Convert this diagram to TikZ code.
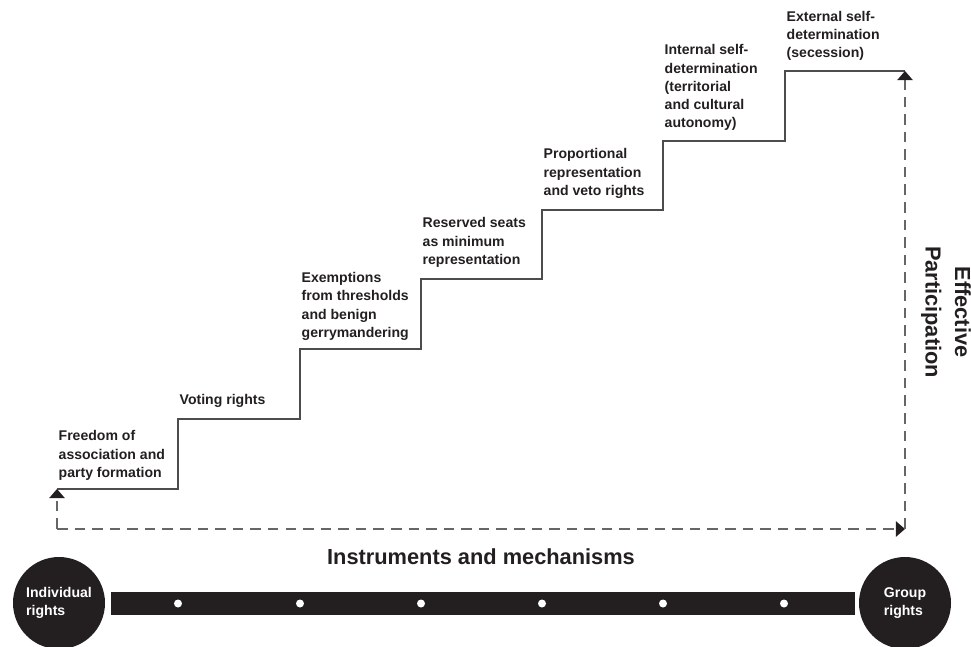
\documentclass[tikz,border=0pt]{standalone}
\usepackage{fontspec}
\setmainfont{Liberation Sans}
\usepackage{xcolor}
\usetikzlibrary{arrows.meta,positioning}

\definecolor{ink}{HTML}{231F20}

\begin{document}
\begin{tikzpicture}[
  x=0.025cm, y=-0.025cm,
  lbl/.style={align=left, inner sep=0pt, text=ink, font=\bfseries\fontsize{10}{13}\selectfont},
  stair/.style={draw=black!70, line width=0.9pt},
  dasharr/.style={draw=black!60, line width=1pt, dash pattern=on 7.5pt off 5pt, -{Triangle[length=6.5pt, width=11pt, color=ink]}},
  pole/.style={circle, fill=ink, minimum size=92*0.025cm, inner sep=0pt, text=white, align=left, font=\bfseries\fontsize{10}{13}\selectfont},
  dot/.style={circle, fill=white, minimum size=8*0.025cm, inner sep=0pt},
  title/.style={text=ink, font=\bfseries\fontsize{15.5}{21}\selectfont, align=center}
]
  \useasboundingbox (0,0) rectangle (971,646);

  \coordinate (st1) at (57,489);
  \coordinate (st2) at (178,419);
  \coordinate (st3) at (300,349);
  \coordinate (st4) at (421,279);
  \coordinate (st5) at (542,210);
  \coordinate (st6) at (663,141);
  \coordinate (st7) at (785,71);
  \coordinate (top) at (905,71);
  \coordinate (origin) at (57,529);
  \coordinate (corner) at (905,529);

  \draw[stair] (st1) -| (st2) -| (st3) -| (st4) -| (st5) -| (st6) -| (st7) -- (top);

  \node[lbl, above right=6pt and 1pt of st1] (freedom) {Freedom of\\association and\\party formation};
  \node[lbl, above right=8pt and 1pt of st2] (voting) {Voting rights};
  \node[lbl, above right=6pt and 1pt of st3] (exempt) {Exemptions\\from thresholds\\and benign\\gerrymandering};
  \node[lbl, above right=8pt and 1pt of st4] (reserved) {Reserved seats\\as minimum\\representation};
  \node[lbl, above right=8pt and 1pt of st5] (propor) {Proportional\\representation\\and veto rights};
  \node[lbl, above right=7pt and 1pt of st6] (internal) {Internal self-\\determination\\(territorial\\and cultural\\autonomy)};
  \node[lbl, above right=7pt and 1pt of st7] (external) {External self-\\determination\\(secession)};

  \draw[dasharr] (origin) -- (st1);
  \draw[dasharr] (origin) -- (corner);
  \draw[dasharr] (corner) -- (top);

  \node[title, rotate=-90] (partic) at (946,312) {Effective\\Participation};
  \node[title] (instr) at (481,557) {Instruments and mechanisms};

  \node[pole] (indiv) at (59,603) {Individual\\rights};
  \node[pole] (group) at (905,603) {Group\\rights};
  \fill[ink] (111,592) rectangle (855,615);
  \foreach \x/\n in {178/1,300/2,421/3,542/4,663/5,784/6}
    \node[dot] (d\n) at (\x,603.5) {};
\end{tikzpicture}
\end{document}
